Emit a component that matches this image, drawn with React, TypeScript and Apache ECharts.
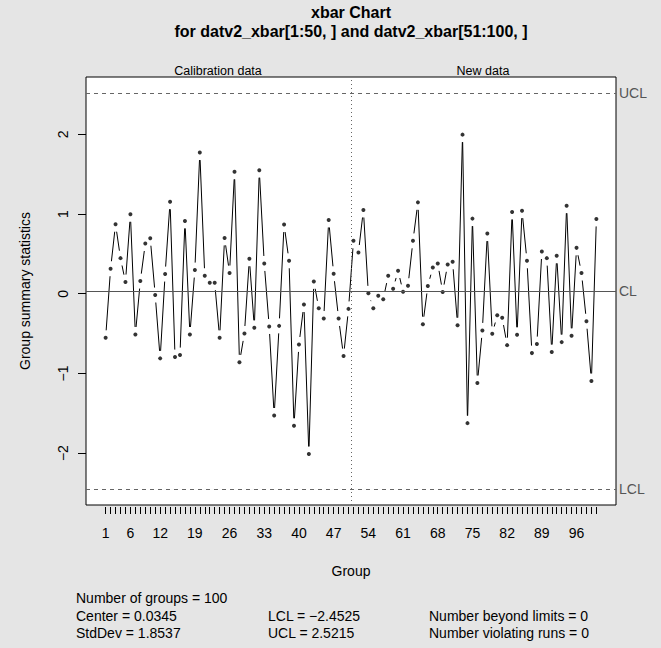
import React, { useEffect, useRef } from 'react';
import * as echarts from 'echarts';

// Group summary statistics (xbar)
const calibrationData = [
  -0.553, 0.314, 0.872, 0.447, 0.147, 0.997, -0.511, 0.159, 0.630, 0.697,
  -0.016, -0.811, 0.247, 1.155, -0.795, -0.770, 0.914, -0.511, 0.297, 1.772,
  0.226, 0.139, 0.139, -0.553, 0.701, 0.260, 1.530, -0.861, -0.499, 0.439,
  -0.428, 1.551, 0.380, -0.411, -1.528, -0.403, 0.868, 0.414, -1.657, -0.636,
  -0.136, -2.011, 0.155, -0.182, -0.311, 0.926, 0.251, -0.311, -0.782, -0.190,
];
const newData = [
  0.664, 0.518, 1.051, 0.005, -0.182, -0.024, -0.070, 0.226, 0.064, 0.289,
  0.026, 0.101, 0.664, 1.147, -0.382, 0.097, 0.330, 0.380, 0.022, 0.368,
  0.401, -0.395, 1.997, -1.624, 0.943, -1.120, -0.460, 0.755, -0.503, -0.270,
  -0.300, -0.645, 1.026, -0.515, 1.043, 0.414, -0.745, -0.632, 0.530, 0.447,
  -0.732, 0.476, -0.607, 1.105, -0.528, 0.576, 0.260, -0.345, -1.095, 0.939,
];
const xTickLabels = [1, 6, 12, 19, 26, 33, 40, 47, 54, 61, 68, 75, 82, 89, 96];
const yTickValues = [-2, -1, 0, 1, 2];
const centerLine = 0.0345;
const lowerLimit = -2.4525;
const upperLimit = 2.5215;
const splitAt = 50.5;
const titleText = 'xbar Chart';
const subtitleText = 'for datv2_xbar[1:50, ] and datv2_xbar[51:100, ]';
const stripLabels = ['Calibration data', 'New data'];
const statsCol1 = ['Number of groups = 100', 'Center = 0.0345', 'StdDev = 1.8537'];
const statsCol2 = ['LCL = \u22122.4525', 'UCL = 2.5215'];
const statsCol3 = ['Number beyond limits = 0', 'Number violating runs = 0'];

const FONT = '"Liberation Sans", Arial, Helvetica, sans-serif';

export default function App() {
  const ref = useRef<HTMLDivElement>(null);

  useEffect(() => {
    const chart = echarts.init(ref.current as HTMLDivElement, null, { renderer: 'svg' });
    const values = [...calibrationData, ...newData];
    const points = values.map((v, i) => [i + 1, v]);
    const segments = points.slice(0, -1).map((p, i) => [p[0], p[1], points[i + 1][0], points[i + 1][1]]);
    const allTicks = values.map((_, i) => i + 1);
    const n = values.length;
    const xMin = 1 - 0.04 * (n - 1);
    const xMax = n + 0.04 * (n - 1);
    const yLo = Math.min(lowerLimit, ...values);
    const yHi = Math.max(upperLimit, ...values);
    const yMin = yLo - 0.04 * (yHi - yLo);
    const yMax = yHi + 0.04 * (yHi - yLo);
    const GAP = 7.5;

    const txt = (text: string, x: number, y: number, extra: any = {}) => ({
      type: 'text',
      x,
      y,
      silent: true,
      style: {
        text,
        fontFamily: FONT,
        fontSize: 14,
        fill: '#000',
        textAlign: 'left',
        textVerticalAlign: 'middle',
        ...extra,
      },
    });

    const ctrlLabel = (t: string) => ({
      show: true,
      position: 'end',
      distance: 3,
      formatter: t,
      color: '#555',
      fontSize: 14,
      fontFamily: FONT,
    });

    chart.setOption({
      animation: false,
      backgroundColor: '#E5E5E5',
      textStyle: { fontFamily: FONT },
      grid: {
        left: 86,
        right: 45,
        top: 77,
        bottom: 143,
        show: true,
        backgroundColor: '#ffffff',
        borderColor: '#000',
        borderWidth: 1,
      },
      xAxis: {
        type: 'value',
        min: xMin,
        max: xMax,
        position: 'bottom',
        offset: 2,
        axisLine: { show: false, onZero: false },
        splitLine: { show: false },
        axisTick: { show: true, length: 7, customValues: allTicks, lineStyle: { color: '#000', width: 1 } },
        axisLabel: { customValues: xTickLabels, fontSize: 14, color: '#000', margin: 19, fontFamily: FONT },
      },
      yAxis: {
        type: 'value',
        min: yMin,
        max: yMax,
        position: 'left',
        axisLine: { show: false, onZero: false },
        splitLine: { show: false },
        axisTick: { show: true, length: 8, customValues: yTickValues, lineStyle: { color: '#000', width: 1 } },
        axisLabel: {
          customValues: yTickValues,
          rotate: 90,
          fontSize: 14,
          color: '#000',
          margin: 16,
          fontFamily: FONT,
          formatter: (v: number) => String(Math.round(v)).replace('-', '\u2212'),
        },
      },
      series: [
        {
          type: 'line',
          data: [],
          z: 2,
          markLine: {
            silent: true,
            symbol: ['none', 'none'],
            animation: false,
            data: [
              { yAxis: upperLimit, lineStyle: { color: '#666', type: [4, 4], width: 1 }, label: ctrlLabel('UCL') },
              { yAxis: centerLine, lineStyle: { color: '#555', type: 'solid', width: 1 }, label: ctrlLabel('CL') },
              { yAxis: lowerLimit, lineStyle: { color: '#666', type: [4, 4], width: 1 }, label: ctrlLabel('LCL') },
              { xAxis: splitAt, lineStyle: { color: '#666', type: [1, 3], width: 1 }, label: { show: false } },
            ],
          },
        },
        {
          type: 'custom',
          data: segments,
          encode: { x: [0, 2], y: [1, 3] },
          z: 3,
          silent: true,
          renderItem: (params: any, api: any) => {
            const a = api.coord([api.value(0), api.value(1)]);
            const b = api.coord([api.value(2), api.value(3)]);
            const dx = b[0] - a[0];
            const dy = b[1] - a[1];
            const len = Math.hypot(dx, dy);
            if (len <= 2 * GAP) return { type: 'group', children: [] };
            const ux = dx / len;
            const uy = dy / len;
            return {
              type: 'line',
              shape: { x1: a[0] + ux * GAP, y1: a[1] + uy * GAP, x2: b[0] - ux * GAP, y2: b[1] - uy * GAP },
              style: { stroke: '#000', lineWidth: 1 },
            };
          },
        },
        {
          type: 'scatter',
          data: points,
          symbol: 'circle',
          symbolSize: 4,
          itemStyle: { color: '#000' },
          z: 4,
          silent: true,
        },
      ],
      graphic: [
        txt(titleText, 351, 12, { textAlign: 'center', fontWeight: 'bold', fontSize: 16 }),
        txt(subtitleText, 351, 31, { textAlign: 'center', fontWeight: 'bold', fontSize: 16 }),
        txt(stripLabels[0], 218, 71, { textAlign: 'center', fontSize: 12.5 }),
        txt(stripLabels[1], 483, 71, { textAlign: 'center', fontSize: 12.5 }),
        { ...txt('Group summary statistics', 25, 291, { textAlign: 'center' }), rotation: Math.PI / 2 },
        txt('Group', 351, 571, { textAlign: 'center' }),
        ...statsCol1.map((t, i) => txt(t, 76, 598 + i * 17.5)),
        ...statsCol2.map((t, i) => txt(t, 268, 615.5 + i * 17.5)),
        ...statsCol3.map((t, i) => txt(t, 429, 615.5 + i * 17.5)),
      ],
    });

    return () => chart.dispose();
  }, []);

  return (
    <div
      ref={ref}
      style={{ position: 'absolute', left: 0, top: 0, width: 661, height: 648 }}
    />
  );
}
